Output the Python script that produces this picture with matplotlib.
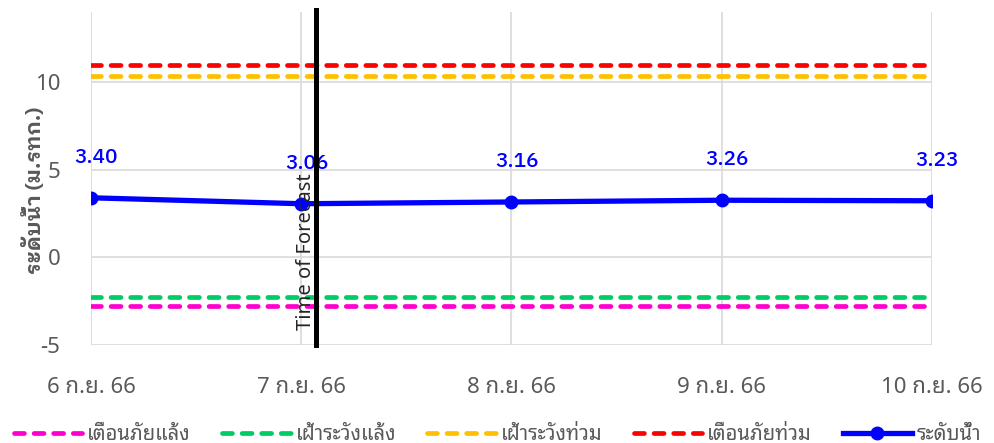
import matplotlib
matplotlib.use("Agg")
import numpy as np
import matplotlib.pyplot as plt

plt.rcParams['font.family'] = ['Noto Sans Thai Looped', 'Noto Sans', 'DejaVu Sans']
bold_family = ['IBM Plex Sans Thai Looped', 'Noto Sans', 'DejaVu Sans']

# data
dates = ['6 ก.ย. 66', '7 ก.ย. 66', '8 ก.ย. 66', '9 ก.ย. 66', '10 ก.ย. 66']
water_level = [3.40, 3.06, 3.16, 3.26, 3.23]
forecast_pos = 1.07  # a little after 7 ก.ย.

thresholds = {
    'เตือนภัยแล้ง': -2.8,
    'เฝ้าระวังแล้ง': -2.25,
    'เฝ้าระวังท่วม': 10.35,
    'เตือนภัยท่วม': 11.0,
}
threshold_colors = ['#FF00CC', '#00CC66', '#FFC000', '#FF0000']
level_label = 'ระดับน้ำ'

grey = '#595959'
x = np.arange(len(dates))

fig = plt.figure(figsize=(9.95, 4.43), dpi=100)
ax = fig.add_axes([91/995, 1 - 345/443, (932 - 91)/995, (345 - 12)/443])

for (name, val), col in zip(thresholds.items(), threshold_colors):
    ax.plot([x[0], x[-1]], [val, val], color=col, lw=3.4, ls=(0, (2.1, 2.05)),
            dash_capstyle='round', label=name, zorder=3)

ax.plot(x, water_level, color='#0000FF', lw=3.8, marker='o', markersize=9,
        label=level_label, zorder=4)
for xi, v in zip(x, water_level):
    ax.annotate('%.2f' % v, (xi, v), xytext=(4, 29), textcoords='offset points',
                ha='center', va='center', color='#0000FF', fontsize=15,
                family=bold_family, fontweight='medium', zorder=5)

ax.axvline(forecast_pos, color='black', lw=3.6, zorder=6, ymax=1.007, clip_on=False)
ax.text(forecast_pos, -4.15, 'Time of Forecast', rotation=90, ha='right', va='bottom',
        fontsize=14.5, color='#262626', zorder=7)

ax.set_xlim(x[0], x[-1])
ax.set_ylim(-5, 14)
ax.set_yticks([-5, 0, 5, 10])
ax.set_xticks(x)
ax.set_xticklabels(dates)
ax.grid(True, color='#D9D9D9', lw=1.2)
ax.set_axisbelow(True)
for s in ax.spines.values():
    s.set_visible(False)
ax.tick_params(axis='both', length=0, labelsize=16, labelcolor=grey)
ax.tick_params(axis='x', pad=23)
ax.tick_params(axis='y', pad=22)

fig.text(34/995, 1 - 190/443, 'ระดับน้ำ (ม.รทก.)', rotation=90, ha='center', va='center',
         fontsize=15, family=bold_family, fontweight='bold', color=grey)

fig.legend(loc='lower center', bbox_to_anchor=(0.5, -0.045), ncol=5, frameon=False,
           handlelength=3.4, handletextpad=0.25, columnspacing=1.55, fontsize=14.5,
           labelcolor=grey)

fig.savefig('out.png')
